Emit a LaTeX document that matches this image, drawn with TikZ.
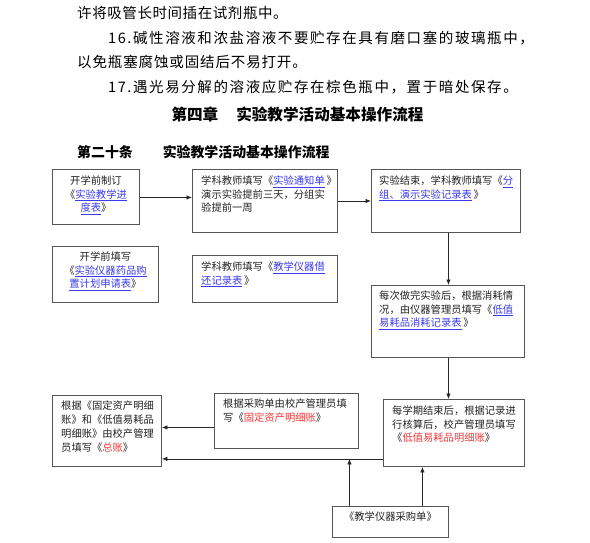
\documentclass[tikz,border=0pt]{standalone}
\usepackage{fontspec}
\setmainfont{Noto Sans CJK SC}
\usetikzlibrary{arrows.meta,calc}
\definecolor{linkblue}{HTML}{3A3AF0}
\definecolor{linkred}{HTML}{F03A3A}
\definecolor{boxgray}{HTML}{555555}
\definecolor{txtgray}{HTML}{222222}
\newcommand{\lnk}[1]{{\color{linkblue}\underline{#1}}}
\newcommand{\rd}[1]{{\color{linkred}#1}}
\tikzset{
  flowbox/.style={draw=boxgray, line width=0.9pt, anchor=north west, inner sep=0pt},
  boxtext/.style={anchor=north west, inner sep=0pt, align=left, text=txtgray,
    font=\fontsize{10.3pt}{13.4pt}\selectfont},
  boxtextc/.style={anchor=north, inner sep=0pt, align=center, text=txtgray,
    font=\fontsize{10.3pt}{13.4pt}\selectfont},
  bodyline/.style={anchor=west, inner sep=0pt, text=black},
  flowarrow/.style={draw=black!85, line width=0.8pt, -{Latex[length=5.5pt,width=4.5pt]}},
}
\begin{document}
\begin{tikzpicture}[x=1pt,y=-1pt]
\useasboundingbox (0,0) rectangle (590,542);

% body text
\node[bodyline, font=\fontsize{14.5pt}{16pt}\selectfont\addfontfeature{LetterSpace=4}] (l1) at (77,13) {许将吸管长时间插在试剂瓶中。};
\node[bodyline, font=\fontsize{14.5pt}{16pt}\selectfont\addfontfeature{LetterSpace=11}] (l2) at (108,38) {16.碱性溶液和浓盐溶液不要贮存在具有磨口塞的玻璃瓶中，};
\node[bodyline, font=\fontsize{14.5pt}{16pt}\selectfont\addfontfeature{LetterSpace=6}] (l3) at (77,62) {以免瓶塞腐蚀或固结后不易打开。};
\node[bodyline, font=\fontsize{14.5pt}{16pt}\selectfont\addfontfeature{LetterSpace=11}] (l4) at (108,87) {17.遇光易分解的溶液应贮存在棕色瓶中，置于暗处保存。};

\node[inner sep=0pt, font=\fontsize{15.6pt}{17pt}\selectfont\bfseries] (h1) at (297.5,114) {第四章\hspace{18pt}实验教学活动基本操作流程};
\node[bodyline, font=\fontsize{13.9pt}{15pt}\selectfont\bfseries] (h2) at (77,152) {第二十条\hspace{30pt}实验教学活动基本操作流程};

% boxes
\node[flowbox, minimum width=87pt, minimum height=55pt] (A) at (52,169) {};
\node[flowbox, minimum width=145pt, minimum height=63pt] (B) at (192,169) {};
\node[flowbox, minimum width=106pt, minimum height=56pt] (C) at (52,246) {};
\node[flowbox, minimum width=145pt, minimum height=47pt] (D) at (192,255) {};
\node[flowbox, minimum width=149pt, minimum height=63pt] (E) at (371,169) {};
\node[flowbox, minimum width=153pt, minimum height=72pt] (F) at (371,285) {};
\node[flowbox, minimum width=141pt, minimum height=67pt] (G) at (383,399) {};
\node[flowbox, minimum width=116pt, minimum height=31pt] (H) at (332,506) {};
\node[flowbox, minimum width=144pt, minimum height=55pt] (J) at (214,393) {};
\node[flowbox, minimum width=109pt, minimum height=71pt] (K) at (52,395) {};

% box texts
\node[boxtextc] (tA) at ([yshift=-7pt]A.north) {开学前制订\\《\lnk{实验教学进}\\\lnk{度表}》};
\node[boxtext] (tB) at ([shift={(9pt,-7pt)}]B.north west) {学科教师填写《\lnk{实验通知单}\,》\\演示实验提前三天，分组实\\验提前一周};
\node[boxtextc] (tC) at ([yshift=-6pt]C.north) {开学前填写\\《\lnk{实验仪器药品购}\\\lnk{置计划申请表}》};
\node[boxtext] (tD) at ([shift={(9pt,-7pt)}]D.north west) {学科教师填写《\lnk{教学仪器借}\\\lnk{还记录表}\,》};
\node[boxtext] (tE) at ([shift={(8pt,-7pt)}]E.north west) {实验结束，学科教师填写《\lnk{分}\\\lnk{组、演示实验记录表}\,》};
\node[boxtext] (tF) at ([shift={(8pt,-6pt)}]F.north west) {每次做完实验后，根据消耗情\\况，由仪器管理员填写《\lnk{低值}\\\lnk{易耗品消耗记录表}\,》};
\node[boxtext] (tG) at ([shift={(9pt,-7pt)}]G.north west) {每学期结束后，根据记录进\\行核算后，校产管理员填写\\《\rd{低值易耗品明细账}》};
\node[boxtextc] (tH) at ([yshift=-6pt]H.north) {《教学仪器采购单》};
\node[boxtext] (tJ) at ([shift={(9pt,-6pt)}]J.north west) {根据采购单由校产管理员填\\写《\rd{固定资产明细账}》};
\node[boxtext, font=\fontsize{10.3pt}{14pt}\selectfont] (tK) at ([shift={(9pt,-6pt)}]K.north west) {根据《固定资产明细\\账》和《低值易耗品\\明细账》由校产管理\\员填写《\rd{总账}》};

% connectors
\draw[flowarrow] ([yshift=-0.5pt]A.east) -- ([yshift=-0.5pt]A.east -| B.west);
\draw[flowarrow] (B.east) -- (E.west);
\draw[flowarrow] ([xshift=2.5pt]E.south) -- ([xshift=2.5pt]E.south |- F.north);
\draw[flowarrow] ([xshift=0.5pt]F.south) -- ([xshift=0.5pt]F.south |- G.north);
\draw[flowarrow] ([xshift=32pt]H.north) -- ([xshift=32pt]H.north |- G.south);
\coordinate (m) at ([yshift=8pt]G.south west);
\draw[flowarrow] (m) -- (m -| K.east);
\draw[flowarrow] ([xshift=-41pt]H.north) -- ([xshift=-41pt]H.north |- m);
\draw[flowarrow] ([yshift=-6.5pt]J.west) -- ([yshift=-6.5pt]J.west -| K.east);
\end{tikzpicture}
\end{document}
